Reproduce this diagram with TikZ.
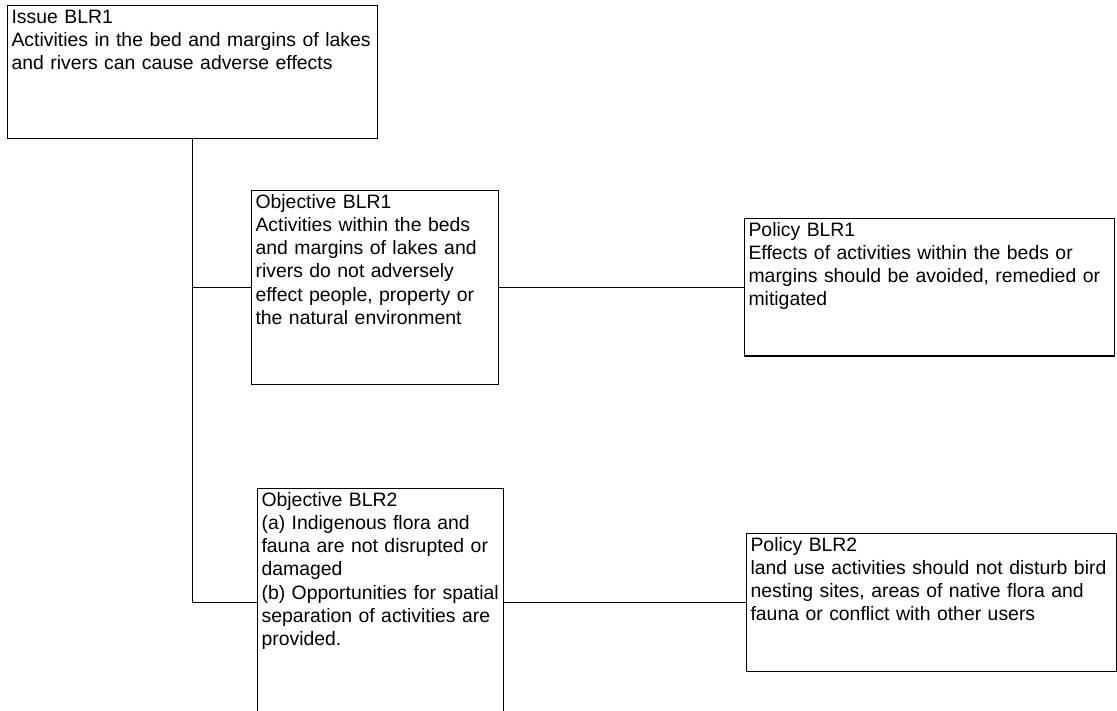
\documentclass[tikz,border=0pt]{standalone}
\usepackage{fontspec}
\setmainfont{Liberation Sans}
\usepackage{tikz}

\tikzset{
  blr/.style={draw, line width=1.1pt, anchor=north west, align=left,
    inner xsep=4pt, inner ysep=0pt, text height=17.5pt,
    font=\fontsize{19.4pt}{23.3pt}\selectfont}
}

\begin{document}
\begin{tikzpicture}[x=1pt, y=-1pt, line width=1.1pt]
\useasboundingbox (0,0) rectangle (1117,711);

\node[blr, text width=362pt, text depth=115.5pt] (I)  at (7,5)
  {Issue BLR1\\Activities in the bed and margins of lakes\\and rivers can cause adverse effects};

\node[blr, text width=239pt, text depth=176.5pt] (O1) at (251,190)
  {Objective BLR1\\Activities within the beds\\and margins of lakes and\\rivers do not adversely\\effect people, property or\\the natural environment};
\node[blr, text width=362pt, text depth=120pt] (P1) at (744,218)
  {Policy BLR1\\Effects of activities within the beds or\\margins should be avoided, remedied or\\mitigated};

\node[blr, text width=238pt, text depth=210.5pt] (O2) at (257,488)
  {Objective BLR2\\(a) Indigenous flora and\\fauna are not disrupted or\\damaged\\(b) Opportunities for spatial\\separation of activities are\\provided.};
\node[blr, text width=362pt, text depth=120.5pt] (P2) at (746,533)
  {Policy BLR2\\land use activities should not disturb bird\\nesting sites, areas of native flora and\\fauna or conflict with other users};

\draw (I.south) |- (O2.west);
\draw (I.south |- O1.west) -- (O1.west);
\draw (O1.east) -- (O1.east -| P1.west);
\draw (O2.east) -- (O2.east -| P2.west);
\end{tikzpicture}
\end{document}
